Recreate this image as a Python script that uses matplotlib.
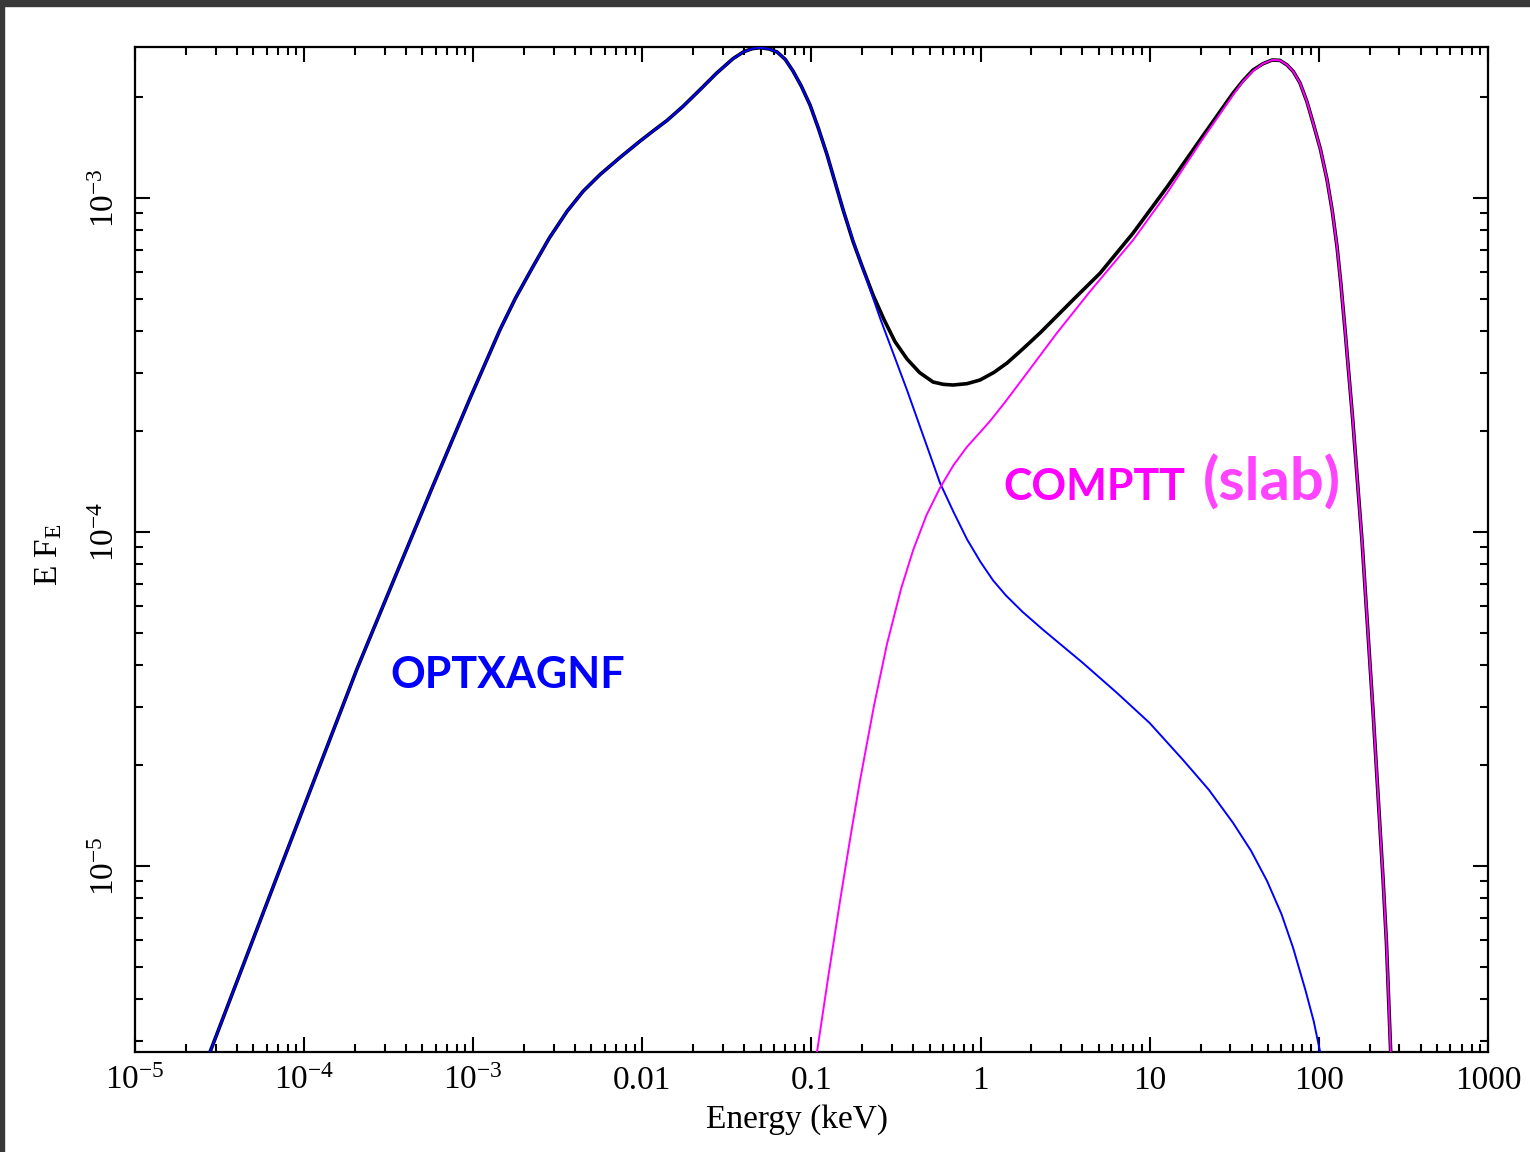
import numpy as np
import matplotlib
matplotlib.use("Agg")
import matplotlib.pyplot as plt
from matplotlib.patches import Rectangle
from matplotlib.ticker import LogLocator, NullFormatter, FixedLocator

plt.rcParams["font.family"] = "Liberation Serif"
plt.rcParams["mathtext.fontset"] = "custom"
plt.rcParams["mathtext.rm"] = "Liberation Serif"
plt.rcParams["mathtext.it"] = "Liberation Serif:italic"
plt.rcParams["mathtext.bf"] = "Liberation Serif:bold"

# values, stored as log10(E / keV) and log10(E F_E)
TOTAL_LOGE = [-4.556, -4.160, -3.687, -3.450, -3.238, -3.019, -2.842, -2.750,
              -2.646, -2.550, -2.445, -2.350, -2.250, -2.130, -2.014, -1.930,
              -1.854, -1.760, -1.659, -1.560, -1.464, -1.400, -1.350, -1.300,
              -1.250, -1.203, -1.155, -1.109, -1.060, -1.008, -0.960, -0.908,
              -0.813, -0.754, -0.700, -0.636, -0.570, -0.506, -0.435, -0.360,
              -0.281, -0.220, -0.163, -0.080, -0.003, 0.080, 0.157, 0.250,
              0.352, 0.547, 0.707, 0.902, 1.103, 1.298, 1.493, 1.550, 1.611,
              1.670, 1.724, 1.770, 1.813, 1.850, 1.889, 1.930, 1.966, 2.010,
              2.049, 2.080, 2.108, 2.130, 2.156, 2.200, 2.256, 2.321, 2.380,
              2.400, 2.425]
TOTAL_LOGF = [-5.557, -5.032, -4.410, -4.120, -3.862, -3.600, -3.395, -3.300,
              -3.205, -3.120, -3.040, -2.980, -2.930, -2.878, -2.830, -2.797,
              -2.768, -2.726, -2.676, -2.626, -2.583, -2.562, -2.553, -2.550,
              -2.554, -2.563, -2.585, -2.620, -2.665, -2.722, -2.790, -2.870,
              -3.035, -3.130, -3.205, -3.290, -3.365, -3.430, -3.482, -3.523,
              -3.551, -3.558, -3.560, -3.556, -3.545, -3.522, -3.494, -3.452,
              -3.404, -3.305, -3.225, -3.105, -2.967, -2.826, -2.686, -2.650,
              -2.617, -2.598, -2.587, -2.588, -2.602, -2.622, -2.656, -2.712,
              -2.775, -2.855, -2.946, -3.040, -3.147, -3.255, -3.400, -3.660,
              -4.030, -4.540, -5.040, -5.230, -5.557]

OPTX_LOGE = [-4.556, -4.160, -3.687, -3.450, -3.238, -3.019, -2.842, -2.750,
             -2.646, -2.550, -2.445, -2.350, -2.250, -2.130, -2.014, -1.930,
             -1.854, -1.760, -1.659, -1.560, -1.464, -1.400, -1.350, -1.300,
             -1.250, -1.203, -1.155, -1.109, -1.060, -1.008, -0.960, -0.908,
             -0.813, -0.742, -0.594, -0.435, -0.240, -0.160, -0.080, 0.000,
             0.074, 0.150, 0.250, 0.370, 0.600, 0.807, 1.000, 1.198, 1.350,
             1.493, 1.600, 1.694, 1.780, 1.848, 1.920, 1.970, 2.008]
OPTX_LOGF = [-5.557, -5.032, -4.410, -4.120, -3.862, -3.600, -3.395, -3.300,
             -3.205, -3.120, -3.040, -2.980, -2.930, -2.878, -2.830, -2.797,
             -2.768, -2.726, -2.676, -2.626, -2.583, -2.562, -2.553, -2.550,
             -2.554, -2.563, -2.585, -2.620, -2.665, -2.722, -2.790, -2.870,
             -3.035, -3.145, -3.360, -3.575, -3.853, -3.940, -4.022, -4.090,
             -4.145, -4.190, -4.240, -4.293, -4.390, -4.482, -4.572, -4.683,
             -4.772, -4.871, -4.955, -5.045, -5.145, -5.245, -5.370, -5.465,
             -5.557]

COMPTT_LOGE = [-0.967, -0.900, -0.831, -0.770, -0.713, -0.630, -0.553, -0.470,
               -0.399, -0.320, -0.240, -0.160, -0.080, 0.000, 0.056, 0.150,
               0.251, 0.452, 0.647, 0.902, 1.103, 1.298, 1.493, 1.550, 1.611,
               1.670, 1.724, 1.770, 1.813, 1.850, 1.889, 1.930, 1.966, 2.010,
               2.049, 2.080, 2.108, 2.130, 2.156, 2.200, 2.256, 2.321, 2.380,
               2.400, 2.425]
COMPTT_LOGF = [-5.557, -5.330, -5.105, -4.915, -4.745, -4.520, -4.335, -4.170,
               -4.055, -3.950, -3.868, -3.800, -3.745, -3.700, -3.668, -3.608,
               -3.540, -3.404, -3.280, -3.126, -2.985, -2.835, -2.692, -2.652,
               -2.620, -2.598, -2.587, -2.588, -2.602, -2.622, -2.656, -2.712,
               -2.775, -2.855, -2.946, -3.040, -3.147, -3.255, -3.400, -3.660,
               -4.030, -4.540, -5.040, -5.230, -5.557]

X_TICKS = [1e-5, 1e-4, 1e-3, 1e-2, 1e-1, 1, 10, 100, 1000]
X_LABELS = [r"$10^{-5}$", r"$10^{-4}$", r"$10^{-3}$", "0.01", "0.1", "1",
            "10", "100", "1000"]
Y_TICKS = [1e-5, 1e-4, 1e-3]
Y_LABELS = [r"$10^{-5}$", r"$10^{-4}$", r"$10^{-3}$"]

fig = plt.figure(figsize=(15.3, 11.52), dpi=100)
ax = fig.add_axes([0.0882, 0.0868, 0.8843, 0.8724])

ax.plot(10 ** np.array(TOTAL_LOGE), 10 ** np.array(TOTAL_LOGF),
        color="black", lw=2.6, solid_joinstyle="round", zorder=2)
ax.plot(10 ** np.array(OPTX_LOGE), 10 ** np.array(OPTX_LOGF),
        color="#0000FF", lw=1.4, solid_joinstyle="round", zorder=3)
ax.plot(10 ** np.array(COMPTT_LOGE), 10 ** np.array(COMPTT_LOGF),
        color="#FF00FF", lw=1.4, solid_joinstyle="round", zorder=4)

ax.set_xscale("log")
ax.set_yscale("log")
ax.set_xlim(1e-5, 1e3)
ax.set_ylim(10 ** -5.557, 10 ** -2.548)

ax.xaxis.set_major_locator(FixedLocator(X_TICKS))
ax.set_xticklabels(X_LABELS)
ax.xaxis.set_minor_locator(LogLocator(base=10, subs=np.arange(2, 10), numticks=20))
ax.xaxis.set_minor_formatter(NullFormatter())
ax.yaxis.set_major_locator(FixedLocator(Y_TICKS))
ax.set_yticklabels(Y_LABELS, rotation=90, va="center")
ax.yaxis.set_minor_locator(LogLocator(base=10, subs=np.arange(2, 10), numticks=20))
ax.yaxis.set_minor_formatter(NullFormatter())

ax.tick_params(which="both", direction="in", top=True, right=True,
               width=1.5, labelsize=24, colors="black")
ax.tick_params(which="major", length=11, pad=10)
ax.tick_params(which="minor", length=6)
for s in ax.spines.values():
    s.set_linewidth(1.6)

ax.set_xlabel("Energy (keV)", fontsize=24, labelpad=2)
ax.xaxis.set_label_coords(0.489, -0.052)
ax.set_ylabel(r"E F$_\mathrm{E}$", fontsize=24)
ax.yaxis.set_label_coords(-0.052, 0.495)

ax.text(0.1885, 0.362, "OPTXAGNF", transform=ax.transAxes, color="#0000FF",
        fontsize=31, fontweight="bold", family="Lato", va="baseline")
ax.text(0.6415, 0.549, "COMPTT", transform=ax.transAxes, color="#FF00FF",
        fontsize=31, fontweight="bold", family="Lato", va="baseline")
ax.text(0.789, 0.549, "(slab)", transform=ax.transAxes, color="#FF44FF",
        fontsize=43, fontweight="bold", family="Lato", va="baseline")

# dark screenshot frame along the top and left edges
fig.patches.append(Rectangle((0, 1 - 6 / 1152), 1, 6 / 1152,
                             transform=fig.transFigure, color="#383838", zorder=10))
fig.patches.append(Rectangle((0, 0), 4 / 1530, 1,
                             transform=fig.transFigure, color="#383838", zorder=10))

fig.savefig("out.png", dpi=100)
